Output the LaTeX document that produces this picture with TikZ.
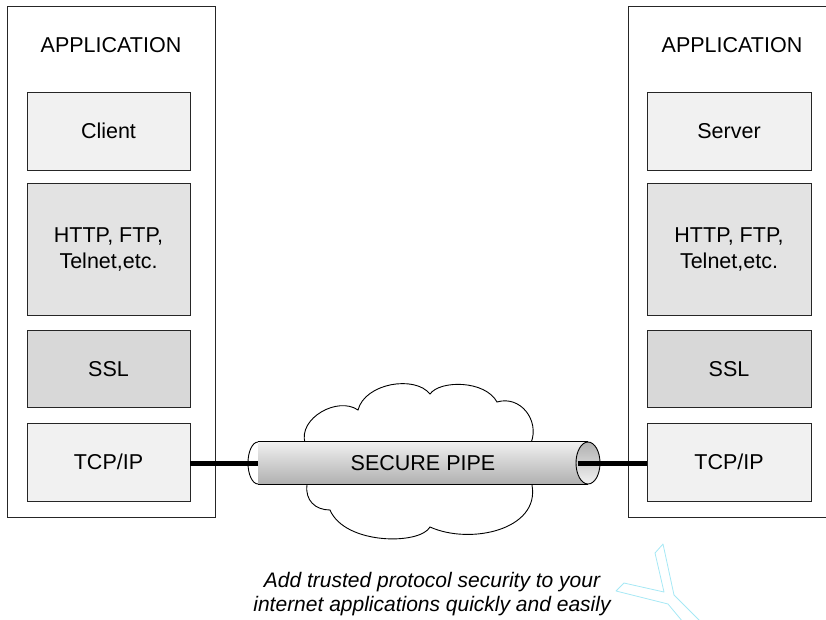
\documentclass[tikz,border=0pt]{standalone}
\usepackage{fontspec}
\setmainfont{Liberation Sans}
\definecolor{fillTop}{HTML}{F1F1F1}
\definecolor{fillMid}{HTML}{E3E3E3}
\definecolor{fillSSL}{HTML}{D8D8D8}
\definecolor{glint}{HTML}{A6E8F5}
\begin{document}
\begin{tikzpicture}[x=1pt,y=-1pt,
  txt/.style={font=\fontsize{21.5}{26}\selectfont, text=black},
  appbox/.style={draw=black!85, line width=0.8pt, fill=white, inner sep=0pt},
  layer/.style={draw=black!85, line width=0.8pt, inner sep=0pt, align=center,
    minimum height=#1, txt},
  colL/.style={minimum width=163pt},
  colR/.style={minimum width=164pt},
  pipebody/.style={minimum width=330pt, minimum height=42pt, inner sep=0pt,
    top color=gray!12, bottom color=gray!62, txt},
  wire/.style={line width=5pt, black},
  outline/.style={line width=0.9pt, black}
]
\useasboundingbox (0,0) rectangle (826,619);
\clip (0,0) rectangle (826,619);

% application frames
\node[appbox, minimum width=208pt, minimum height=511pt] (appL) at (111,262) {};
\node[appbox, minimum width=214pt, minimum height=511pt] (appR) at (735,262) {};
\node[txt] (titleL) at (111,45) {APPLICATION};
\node[txt] (titleR) at (732,45) {APPLICATION};

% protocol stack, client side
\node[layer=78, colL, fill=fillTop] (clientL) at (108.5,131) {Client};
\node[layer=132, colL, fill=fillMid] (httpL) at (108.5,249) {HTTP, FTP,\\Telnet,etc.};
\node[layer=77, colL, fill=fillSSL] (sslL) at (108.5,369) {SSL};
\node[layer=78, colL, fill=fillTop] (tcpL) at (108.5,462) {TCP/IP};

% protocol stack, server side
\node[layer=78, colR, fill=fillTop] (clientR) at (729,131) {Server};
\node[layer=132, colR, fill=fillMid] (httpR) at (729,249) {HTTP, FTP,\\Telnet,etc.};
\node[layer=77, colR, fill=fillSSL] (sslR) at (729,369) {SSL};
\node[layer=78, colR, fill=fillTop] (tcpR) at (729,462) {TCP/IP};

% internet cloud behind the pipe
\draw[outline, fill=white] (305,443)
  .. controls (298,418) and (338,396) .. (358,410)
  .. controls (365,383) and (415,375) .. (430,394)
  .. controls (440,380) and (485,380) .. (497,402)
  .. controls (520,395) and (540,420) .. (531,443)
  -- (532,485)
  .. controls (540,530) and (470,545) .. (430,527)
  .. controls (420,545) and (345,545) .. (330,510)
  .. controls (315,510) and (305,500) .. (307,485)
  -- cycle;

% secure pipe
\coordinate (pipeL) at (258,463);
\coordinate (pipeR) at (588,463);
\coordinate (pipeIn) at (578,463);
\draw[outline, fill=white] (pipeL) ellipse [x radius=10pt, y radius=21pt];
\node[pipebody] (pipe) at (423,463) {SECURE PIPE};
\draw[outline] (pipe.north west) -- (pipe.north east);
\draw[outline] (pipe.south west) -- (pipe.south east);
\draw[outline, top color=gray!62, bottom color=gray!10] (pipeR) ellipse [x radius=12pt, y radius=21pt];

% links from the TCP/IP layers into the pipe
\draw[wire] (tcpL.east |- pipeL) -- (pipeL);
\draw[wire] (pipeIn) -- (pipeIn -| tcpR.west);

% caption
\node[font=\itshape\fontsize{21}{24}\selectfont, align=center] (caption) at (432,594)
  {Add trusted protocol security to your\\internet applications quickly and easily};

% faint cyan mark
\draw[glint, line width=0.8pt, line join=round]
  (683,622) -- (668,604) -- (616,591) -- (624,583) -- (664,592) -- (655,553)
  -- (663,544) -- (674,595) -- (701,622);
\end{tikzpicture}
\end{document}
